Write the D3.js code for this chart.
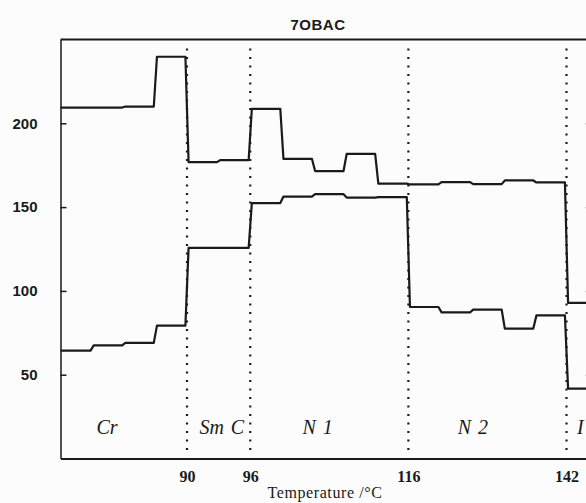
<!DOCTYPE html>
<html>
<head>
<meta charset="utf-8">
<script src="https://cdn.jsdelivr.net/npm/d3@7"></script>
<style>
  body { margin: 0; background: #fcfcfc; }
  #chart { width: 586px; height: 503px; }
  .tickY text { font-family: "Liberation Sans", Arial, sans-serif; font-weight: bold; font-size: 15px; }
  .tickX text { font-family: "Liberation Serif", "Times New Roman", serif; font-weight: bold; font-size: 16px; }
  .phase { font-family: "Liberation Serif", "Times New Roman", serif; font-style: italic; font-size: 20px; }
</style>
</head>
<body>
<div id="chart"><svg width="586" height="503"></svg></div>
<script>
// measurements shown as steps, one per reading
const phaseNames = ["Cr", "Sm C", "N 1", "N 2", "I"];
const phaseBreaks = [4, 6, 11, 16];          // reading index at each transition
const tempLabels = ["90", "96", "116", "142"]; // transition temperatures, °C
const yTicks = [50, 100, 150, 200];

const upperSteps = [209.4, 209.4, 210.0, 239.7, 176.8, 178.0, 208.6, 178.8, 171.5,
                    181.8, 164.0, 163.5, 164.9, 163.7, 165.9, 164.7, 92.8];
const lowerSteps = [64.4, 67.5, 69.0, 79.3, 125.7, 125.7, 152.4, 156.3, 157.7,
                    155.7, 156.0, 90.4, 87.2, 88.8, 77.5, 85.4, 41.7];

function makePlot() {

    /**********************
    ***** BASIC SETUP *****
    **********************/

    const svg = d3.select("#chart").select("svg");
    const INK = "#1a1a1a";
    const X_MAX = 16.8; // frame runs past the right edge of the page

    const xScale = d3.scaleLinear()
        .domain([0, X_MAX])
        .range([60.5, 60.5 + 31.625 * X_MAX]);

    const yScale = d3.scaleLinear()
        .domain([0, 250])
        .range([458.5, 39.5]);

    /*******************
    ***** AXES *********
    *******************/

    svg.append("g")
        .attr("class", "tickY")
        .attr("transform", `translate(${xScale(0)}, 0)`)
        .call(d3.axisLeft(yScale)
            .tickValues(yTicks)
            .tickSizeInner(-6)
            .tickSizeOuter(0)
            .tickPadding(23))
        .call(g => g.select(".domain").attr("stroke", INK).attr("stroke-width", 1.5))
        .call(g => g.selectAll(".tick line").attr("stroke", INK).attr("stroke-width", 1.5))
        .call(g => g.selectAll(".tick text").attr("fill", INK));

    // right hand frame, only its ticks reach the page
    svg.append("g")
        .attr("transform", `translate(${xScale(X_MAX)}, 0)`)
        .call(d3.axisLeft(yScale)
            .tickValues(yTicks)
            .tickSizeInner(6)
            .tickSizeOuter(0)
            .tickFormat(""))
        .call(g => g.selectAll("line, path").attr("stroke", INK).attr("stroke-width", 1.5));

    svg.append("g")
        .attr("class", "tickX")
        .attr("transform", `translate(0, ${yScale(0)})`)
        .call(d3.axisBottom(xScale)
            .tickValues(phaseBreaks)
            .tickFormat((d, i) => tempLabels[i])
            .tickSize(0)
            .tickPadding(12))
        .call(g => g.select(".domain").attr("stroke", INK).attr("stroke-width", 2))
        .call(g => g.selectAll(".tick text").attr("fill", INK));

    // top frame
    svg.append("line")
        .attr("x1", xScale(0)).attr("x2", xScale(X_MAX))
        .attr("y1", yScale(250)).attr("y2", yScale(250))
        .attr("stroke", INK)
        .attr("stroke-width", 2);

    /****************************
    ***** PHASE BOUNDARIES *****
    ****************************/

    svg.selectAll(".boundary")
        .data(phaseBreaks)
        .enter()
        .append("line")
        .attr("class", "boundary")
        .attr("x1", d => xScale(d)).attr("x2", d => xScale(d))
        .attr("y1", yScale(250) + 9).attr("y2", yScale(0) - 4)
        .attr("stroke", INK)
        .attr("stroke-width", 2.2)
        .attr("stroke-dasharray", "2 6.5");

    /****************
    ***** LINES *****
    *****************/

    const GAP = 0.05;
    function stepPoints(values) {
        const pts = [];
        values.forEach((v, i) => {
            const a = i === 0 ? 0 : i + GAP;
            const b = i === values.length - 1 ? X_MAX : i + 1 - GAP;
            pts.push([a, v], [b, v]);
        });
        return pts;
    }

    const line = d3.line()
        .x(d => xScale(d[0]))
        .y(d => yScale(d[1]));

    [upperSteps, lowerSteps].forEach(series => {
        svg.append("path")
            .datum(stepPoints(series))
            .attr("fill", "none")
            .attr("stroke", INK)
            .attr("stroke-width", 2.2)
            .attr("stroke-linejoin", "round")
            .attr("d", line);
    });

    /***********************
    ***** PHASE LABELS *****
    ***********************/

    const labelAt = [1.47, 5.1, 8.13, 13.04, 16.44];

    svg.selectAll(".phase")
        .data(phaseNames)
        .enter()
        .append("text")
        .attr("class", "phase")
        .attr("x", (d, i) => xScale(labelAt[i]))
        .attr("y", 434)
        .attr("text-anchor", "middle")
        .attr("fill", INK)
        .style("word-spacing", "2px")
        .text(d => d);

    /*************************
    ***** TITLE, CAPTION *****
    *************************/

    svg.append("text")
        .text("7OBAC")
        .attr("x", 318)
        .attr("y", 29.5)
        .attr("text-anchor", "middle")
        .attr("fill", INK)
        .style("font-family", "'Liberation Sans', Arial, sans-serif")
        .style("font-weight", "bold")
        .style("font-size", "15px")
        .style("letter-spacing", "0.5px");

    svg.append("text")
        .text("Temperature /°C")
        .attr("x", 325)
        .attr("y", 498)
        .attr("text-anchor", "middle")
        .attr("fill", INK)
        .style("font-family", "'Liberation Serif', 'Times New Roman', serif")
        .style("font-size", "16px")
        .style("letter-spacing", "0.6px");
}

makePlot();
</script>
</body>
</html>
